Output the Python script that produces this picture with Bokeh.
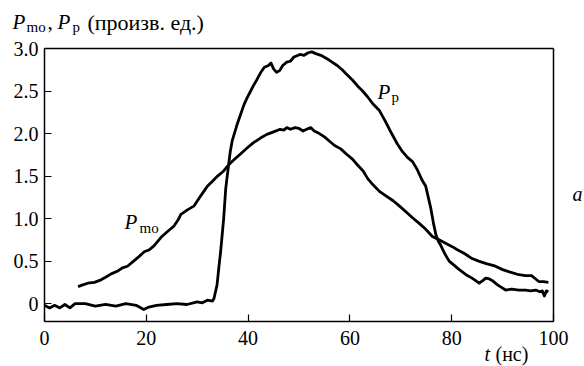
from bokeh.plotting import figure
from bokeh.models import (Range1d, FixedTicker, CustomJSTickFormatter, Label, LinearAxis)
from bokeh.embed import file_html
from bokeh.resources import INLINE

# ---- data ----
t_p = [0, 1, 2, 3, 4, 5, 6, 8, 10, 12, 14, 16, 18, 19.5, 20.5, 22, 24, 26, 28, 30, 31, 32, 33,
       33.3, 33.9, 34.3, 34.6, 35.2, 35.6, 35.9, 36.5, 36.9, 37.8, 38.5, 39.2, 39.8, 40.5, 41.2,
       41.7, 42.5, 43.2, 44.0, 44.5, 45.0, 45.6, 46.2, 46.8, 47.6, 48.3, 49.0, 50.2, 51.0, 51.8,
       52.5, 53.3, 54.3, 55.5, 56.5, 57.5, 58.5, 59.3, 60.5, 61.5, 62.5, 63.5, 64.5, 65.8, 67.0,
       68.2, 69.3, 70.3, 71.3, 72.3, 73.2, 74.2, 74.9, 75.4, 75.9, 76.4, 76.9, 77.4, 77.9, 78.7,
       79.5, 80.5, 81.5, 82.8, 84.0, 85.4, 86.1, 86.7, 87.4, 88.0, 89.0, 90.6, 91.8, 93.2, 94.5,
       95.5, 96.5, 97.3, 97.8, 98.2, 98.6, 99.0]
v_p = [-0.02, -0.05, -0.02, -0.05, -0.01, -0.05, 0.0, 0.0, -0.03, -0.01, -0.03, 0.0, -0.02, -0.07,
       -0.04, -0.02, -0.01, 0.0, -0.01, 0.02, 0.01, 0.04, 0.03,
       0.06, 0.22, 0.45, 0.61, 1.0, 1.35, 1.5, 1.79, 1.92, 2.1, 2.22, 2.34, 2.42, 2.5, 2.58,
       2.63, 2.72, 2.78, 2.80, 2.83, 2.76, 2.72, 2.74, 2.80, 2.84, 2.85, 2.90, 2.93, 2.92, 2.95,
       2.96, 2.94, 2.92, 2.88, 2.84, 2.80, 2.75, 2.70, 2.63, 2.56, 2.50, 2.43, 2.35, 2.27, 2.14,
       2.0, 1.88, 1.79, 1.72, 1.67, 1.58, 1.45, 1.38, 1.25, 1.12, 0.95, 0.81, 0.73, 0.68, 0.58,
       0.50, 0.45, 0.40, 0.34, 0.30, 0.24, 0.27, 0.30, 0.29, 0.27, 0.22, 0.16, 0.17, 0.16, 0.16,
       0.15, 0.16, 0.14, 0.15, 0.09, 0.15, 0.14]

t_mo = [6.6, 7.5, 8.5, 9.8, 11.1, 12.0, 13.1, 14.3, 15.3, 16.3, 17.5, 18.5, 19.6, 20.5, 21.5, 22.9,
        24.0, 25.4, 26.2, 26.8, 28.0, 29.4, 30.5, 31.3, 32.0, 33.0, 34.0, 35.2, 36.0, 37.0, 38.5,
        39.8, 41.0, 42.5, 43.7, 45.0, 46.3, 47.0, 47.6, 48.3, 49.2, 50.0, 50.8, 51.5, 52.3, 53.0,
        54.0, 55.0, 56.0, 57.0, 58.2, 59.3, 60.5, 61.5, 62.6, 63.5, 64.5, 65.8, 67.0, 68.5, 69.7,
        71.0, 72.3, 73.5, 74.8, 76.2, 77.5, 78.8, 80.1, 81.2, 82.5, 84.0, 85.3, 86.8, 88.6, 90.0,
        91.5, 93.2, 94.5, 95.7, 96.5, 97.1, 98.0, 99.0]
v_mo = [0.20, 0.22, 0.24, 0.25, 0.28, 0.31, 0.35, 0.38, 0.42, 0.44, 0.50, 0.55, 0.61, 0.63, 0.68, 0.78,
        0.84, 0.91, 0.98, 1.05, 1.10, 1.15, 1.25, 1.32, 1.38, 1.44, 1.50, 1.56, 1.62, 1.68, 1.76,
        1.83, 1.89, 1.95, 1.99, 2.02, 2.05, 2.04, 2.07, 2.05, 2.07, 2.06, 2.03, 2.05, 2.07, 2.03,
        2.0, 1.96, 1.91, 1.86, 1.82, 1.76, 1.70, 1.63, 1.56, 1.47, 1.40, 1.32, 1.27, 1.21, 1.15,
        1.08, 1.01, 0.95, 0.88, 0.79, 0.75, 0.71, 0.67, 0.63, 0.59, 0.53, 0.50, 0.47, 0.44, 0.40,
        0.37, 0.34, 0.33, 0.33, 0.29, 0.26, 0.26, 0.25]

x_ticks = [0, 20, 40, 60, 80, 100]
y_ticks = [0, 0.5, 1.0, 1.5, 2.0, 2.5, 3.0]

# axis extents (data) and where the axis box sits on the page (pixels)
X0, X1 = 0, 100
Y0, Y1 = -0.21, 3.0
W, H = 584, 366
FL, FR, FT, FB = 44, 553, 48, 321

sx = (X1 - X0) / (FR - FL)
sy = (Y1 - Y0) / (FB - FT)
xr = Range1d(X0 - FL * sx, X1 + (W - FR) * sx)
yr = Range1d(Y0 - (H - FB) * sy, Y1 + FT * sy)

p = figure(width=W, height=H, output_backend="svg", toolbar_location=None,
           x_range=xr, y_range=yr, min_border=0)
p.background_fill_color = "white"
p.border_fill_color = "white"
p.outline_line_color = None
p.xgrid.visible = False
p.ygrid.visible = False

FONT = "Liberation Serif"
for ax in (p.xaxis[0], p.yaxis[0]):
    ax.axis_line_color = "black"
    ax.axis_line_width = 1.5
    ax.major_tick_line_color = "black"
    ax.major_tick_line_width = 1.2
    ax.major_tick_in = 7
    ax.major_tick_out = 0
    ax.minor_tick_line_color = None
    ax.major_label_text_font = FONT
    ax.major_label_text_font_size = "20px"
    ax.major_label_text_color = "black"
p.xaxis.ticker = FixedTicker(ticks=x_ticks)
p.yaxis.ticker = FixedTicker(ticks=y_ticks)
p.xaxis.fixed_location = Y0
p.yaxis.fixed_location = X0
p.xaxis.bounds = (X0, X1)
p.yaxis.bounds = (Y0, Y1)
p.yaxis.formatter = CustomJSTickFormatter(code="return tick == 0 ? '0' : tick.toFixed(1);")
p.xaxis.major_label_standoff = 9
p.yaxis.major_label_standoff = 6

# top and right edges of the box: plain axes without ticks or labels
for place, loc, bnds in (("above", Y1, (X0, X1)), ("right", X1, (Y0, Y1))):
    edge = LinearAxis(fixed_location=loc, bounds=bnds, ticker=FixedTicker(ticks=[]),
                      axis_line_color="black", axis_line_width=1.5,
                      major_tick_line_color=None, minor_tick_line_color=None,
                      major_label_text_font_size="0px")
    p.add_layout(edge, place)

p.line(t_p, v_p, line_color="black", line_width=2.8, line_join="round")
p.line(t_mo, v_mo, line_color="black", line_width=2.8, line_join="round")


def lab(text, px, base, size, italic=False):
    # base: wanted baseline (pixels from top); rendered text sits ~0.34 em lower
    p.add_layout(Label(x=px, y=base - 0.34 * size, x_units="canvas", y_units="canvas",
                       text=text, text_font=FONT, text_font_size=f"{size}px",
                       text_color="black",
                       text_font_style="italic" if italic else "normal",
                       text_baseline="alphabetic", text_align="left"))


# title
lab("P", 12, 29, 21, True)
lab("mo", 26, 32, 15)
lab(",", 47, 29, 21)
lab("P", 57, 29, 21, True)
lab("p", 72, 32, 15)
lab("(произв. ед.)", 87, 29, 22)

# curve labels
lab("P", 124, 229, 21, True)
lab("mo", 139, 233, 15)
lab("P", 377, 99, 21, True)
lab("p", 391, 102, 15)

# axis label
lab("t", 484, 360, 20, True)
lab("(нс)", 495, 360, 20)

# panel letter
lab("a", 572, 200, 20, True)

open("out.html", "w").write(file_html(p, INLINE))
